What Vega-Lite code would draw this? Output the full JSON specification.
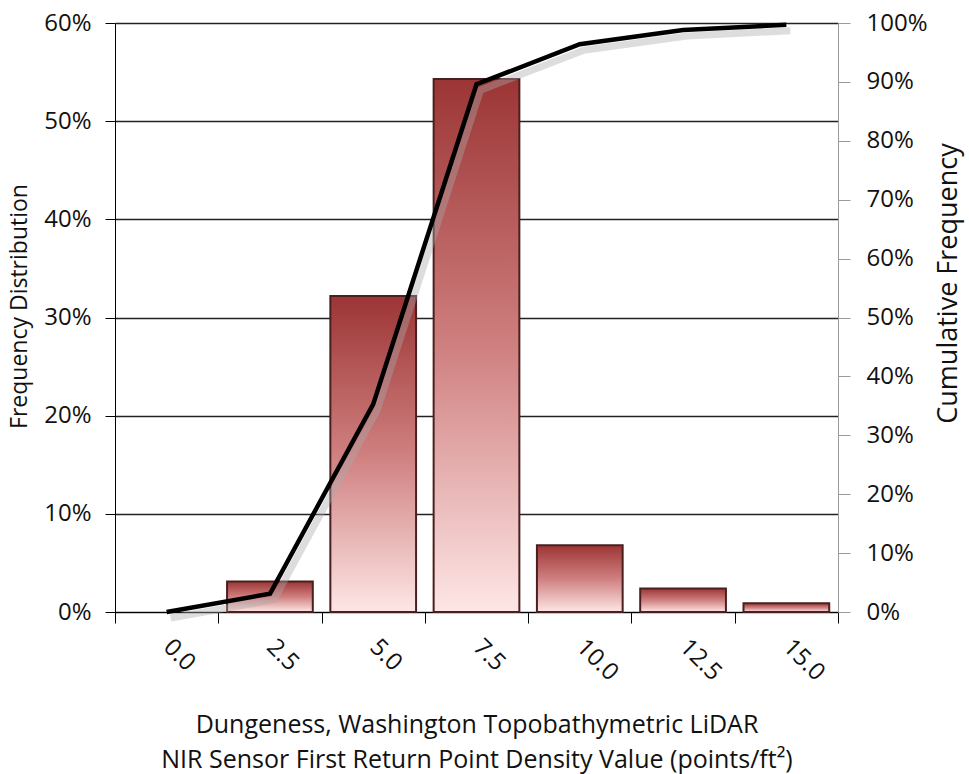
{
  "$schema": "https://vega.github.io/schema/vega-lite/v6.json",
  "autosize": "none",
  "width": 723,
  "height": 589,
  "padding": {"left": 115, "top": 23, "right": 131, "bottom": 162},
  "background": "white",
  "config": {
    "font": "Open Sans",
    "view": {"stroke": null},
    "axis": {"labelFont": "Open Sans", "titleFont": "Open Sans", "labelColor": "#111", "titleColor": "#111", "titleFontWeight": "normal"}
  },
  "data": {
    "values": [
      {"bin": "0.0", "freq": 0.0, "cum": 0.0},
      {"bin": "2.5", "freq": 0.031, "cum": 0.031},
      {"bin": "5.0", "freq": 0.322, "cum": 0.353},
      {"bin": "7.5", "freq": 0.543, "cum": 0.896},
      {"bin": "10.0", "freq": 0.068, "cum": 0.964},
      {"bin": "12.5", "freq": 0.024, "cum": 0.988},
      {"bin": "15.0", "freq": 0.009, "cum": 0.997}
    ]
  },
  "encoding": {
    "x": {
      "field": "bin",
      "type": "ordinal",
      "scale": {"domain": ["0.0", "2.5", "5.0", "7.5", "10.0", "12.5", "15.0"], "paddingInner": 0, "paddingOuter": 0},
      "axis": {
        "title": ["Dungeness, Washington Topobathymetric LiDAR", "NIR Sensor First Return Point Density Value (points/ft²)"],
        "titleFontSize": 25,
        "titleLineHeight": 35,
        "titlePadding": 27,
        "labelFontSize": 24,
        "labelAngle": 45,
        "labelAlign": "left",
        "labelBaseline": "middle",
        "labelPadding": 20,
        "tickBand": "extent",
        "domainColor": "#000",
        "tickColor": "#000",
        "tickSize": 11,
        "grid": false
      }
    }
  },
  "layer": [
    {
      "transform": [{"filter": "datum.freq > 0"}],
      "mark": {
        "type": "bar",
        "width": {"band": 0.83},
        "stroke": "#4a1f1f",
        "strokeWidth": 2,
        "color": {
          "gradient": "linear",
          "x1": 0, "y1": 0, "x2": 0, "y2": 1,
          "stops": [
            {"offset": 0, "color": "#9c3535"},
            {"offset": 0.5, "color": "#cf7f7f"},
            {"offset": 1, "color": "#fee6e6"}
          ]
        }
      },
      "encoding": {
        "y": {
          "field": "freq",
          "type": "quantitative",
          "scale": {"domain": [0, 0.6], "nice": false},
          "axis": {
            "title": "Frequency Distribution",
            "titleFontSize": 23,
            "titlePadding": 12,
            "titleY": 283,
            "labelFontSize": 24,
            "labelPadding": 14,
            "format": ".0%",
            "values": [0, 0.1, 0.2, 0.3, 0.4, 0.5, 0.6],
            "grid": true,
            "gridColor": "#222",
            "gridWidth": 1.3,
            "domainColor": "#000",
            "tickColor": "#000",
            "tickSize": 10
          }
        }
      }
    },
    {
      "mark": {"type": "line", "color": "#aaa", "opacity": 0.4, "strokeWidth": 7, "xOffset": 4, "yOffset": 6},
      "encoding": {
        "y": {"field": "cum", "type": "quantitative", "scale": {"domain": [0, 1], "nice": false}, "axis": null}
      }
    },
    {
      "mark": {"type": "line", "color": "#000", "strokeWidth": 4.5},
      "encoding": {
        "y": {
          "field": "cum",
          "type": "quantitative",
          "scale": {"domain": [0, 1], "nice": false},
          "axis": {
            "orient": "right",
            "title": "Cumulative Frequency",
            "titleFontSize": 27,
            "titleAngle": -90,
            "titleBaseline": "top",
            "titlePadding": 8,
            "titleY": 260,
            "labelFontSize": 24,
            "labelPadding": 16,
            "format": ".0%",
            "values": [0, 0.1, 0.2, 0.3, 0.4, 0.5, 0.6, 0.7, 0.8, 0.9, 1.0],
            "grid": false,
            "domainColor": "#9a9a9a",
            "tickColor": "#9a9a9a",
            "tickSize": 12
          }
        }
      }
    }
  ],
  "resolve": {"scale": {"y": "independent"}}
}
